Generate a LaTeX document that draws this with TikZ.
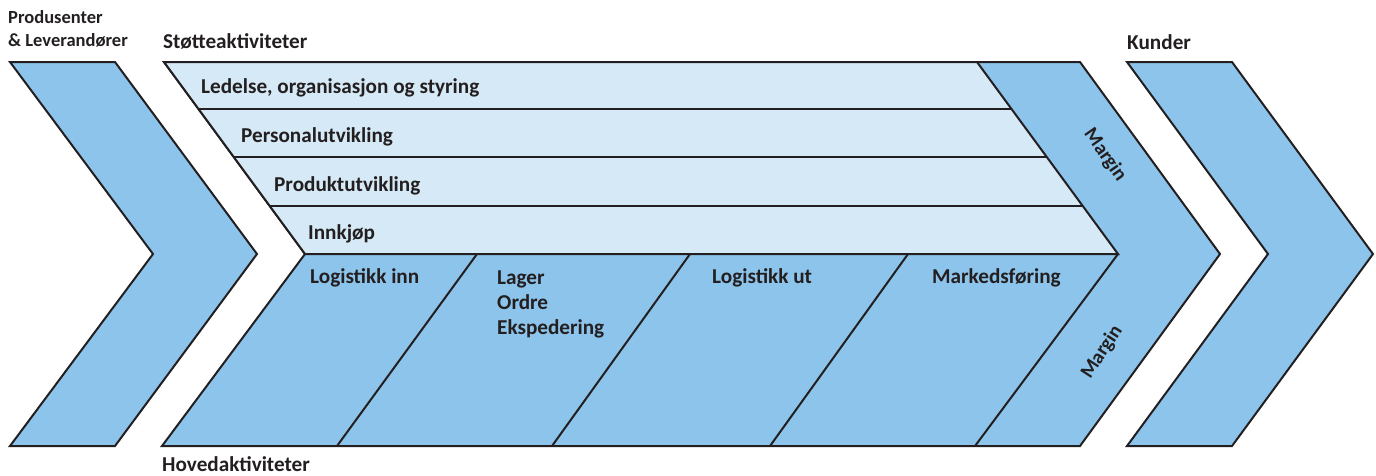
\documentclass[tikz,border=0pt]{standalone}
\usepackage{fontspec}
\setmainfont{Carlito}
\definecolor{chev}{RGB}{141,196,235}
\definecolor{supp}{RGB}{214,233,246}
\definecolor{ink}{RGB}{35,31,32}
\begin{document}
\begin{tikzpicture}[x=1pt,y=-1pt,
  outline/.style={draw=ink,line width=2pt,line join=miter},
  sep/.style={draw=ink,line width=2pt},
  lbl/.style={anchor=base west,inner sep=0pt,text=ink,font=\fontsize{21.2}{25}\selectfont\bfseries},
  sml/.style={anchor=base west,inner sep=0pt,text=ink,font=\fontsize{18.5}{22}\selectfont\bfseries},
  mrg/.style={inner sep=0pt,text=ink,font=\fontsize{20}{24}\selectfont\bfseries}]
\useasboundingbox (0,0) rectangle (1376,475);
% left chevron
\path[outline,fill=chev] (10,62)--(115,62)--(257,254)--(115,446)--(10,446)--(153,254)--cycle;
% main chevron
\path[outline,fill=chev] (164,62)--(1080,62)--(1220,254)--(1080,446)--(162,446)--(305,254)--cycle;
% support area
\path[outline,fill=supp] (164,62)--(977,62)--(1118,254)--(305,254)--cycle;
\draw[sep] (198.4,109)--(1011.4,109);
\draw[sep] (233.4,157)--(1046.4,157);
\draw[sep] (269.3,206)--(1082.3,206);
\draw[sep] (305,254)--(1118,254);
% main dividers
\draw[sep] (477,254)--(337,446);
\draw[sep] (690,254)--(552,446);
\draw[sep] (908,254)--(770,446);
\draw[sep] (1118,254)--(975,446);
% Kunder chevron
\path[outline,fill=chev] (1127,62)--(1232,62)--(1373,254)--(1232,446)--(1127,446)--(1268,254)--cycle;
% labels
\node[sml] (prod) at (8,23) {Produsenter};
\node[sml] (lev) at (8,46) {\& Leverandører};
\node[lbl] (stotte) at (163,48) {Støtteaktiviteter};
\node[lbl] (kunder) at (1127,49) {Kunder};
\node[lbl] (hoved) at (162,471) {Hovedaktiviteter};
\node[lbl] (ledelse) at (201,93) {Ledelse, organisasjon og styring};
\node[lbl] (personal) at (241,142) {Personalutvikling};
\node[lbl] (produkt) at (274,191) {Produktutvikling};
\node[lbl] (innkjop) at (308,239) {Innkjøp};
\node[lbl] (logi) at (310,283) {Logistikk inn};
\node[lbl] (lager) at (497,284) {Lager};
\node[lbl] (ordre) at (497,309) {Ordre};
\node[lbl] (eksp) at (497,334) {Ekspedering};
\node[lbl] (logu) at (712,283) {Logistikk ut};
\node[lbl] (mark) at (932,283) {Markedsføring};
\node[mrg,rotate=-55] (m1) at (1105,155) {Margin};
\node[mrg,rotate=57] (m2) at (1102,352) {Margin};
\end{tikzpicture}
\end{document}
